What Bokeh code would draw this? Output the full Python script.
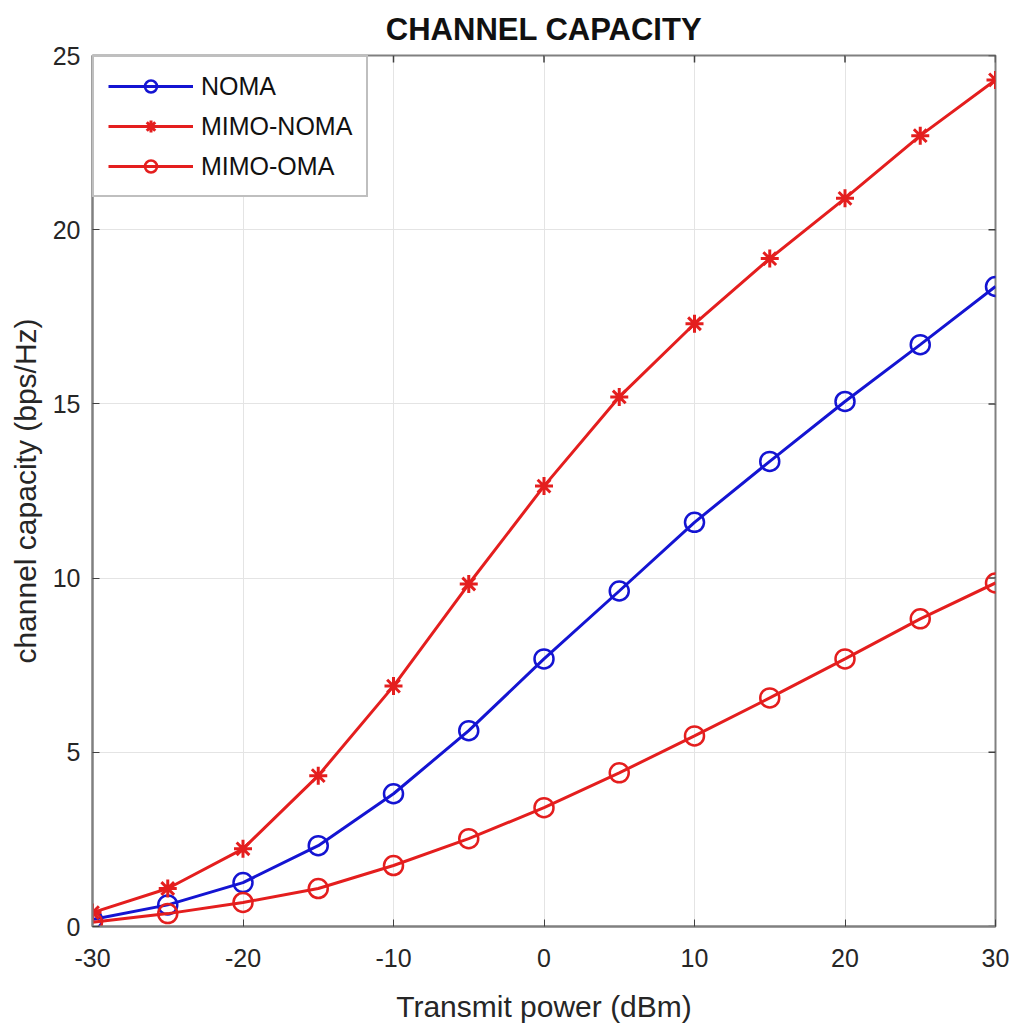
import math

from bokeh.plotting import figure
from bokeh.models import Range1d, FixedTicker, Legend, LegendItem
from bokeh.embed import file_html
from bokeh.resources import INLINE

# Transmit power sweep (dBm) and achieved channel capacity (bps/Hz)
power_dbm = [-30, -25, -20, -15, -10, -5, 0, 5, 10, 15, 20, 25, 30]
noma = [0.2, 0.62, 1.26, 2.32, 3.81, 5.62, 7.68, 9.63, 11.6, 13.35, 15.07, 16.7, 18.37]
mimo_noma = [0.4, 1.09, 2.23, 4.33, 6.9, 9.83, 12.64, 15.2, 17.3, 19.17, 20.9, 22.7, 24.3]
mimo_oma = [0.12, 0.37, 0.69, 1.09, 1.75, 2.52, 3.41, 4.41, 5.47, 6.56, 7.68, 8.83, 9.86]

x_ticks = [-30, -20, -10, 0, 10, 20, 30]
y_ticks = [0, 5, 10, 15, 20, 25]
x_lim = (-30, 30)
y_lim = (0, 25)

BLUE = "#1414d2"
RED = "#e41e1e"
AXIS_GREY = "#808080"
TICK_GREY = "#404040"
TEXT = "#262626"
FONT = "Liberation Sans"

p = figure(
    width=1015, height=1034,
    x_range=Range1d(*x_lim), y_range=Range1d(*y_lim),
    output_backend="svg", toolbar_location=None,
    min_border_left=92, min_border_right=20,
    min_border_top=53, min_border_bottom=108,
    background_fill_color="white", border_fill_color="white",
)

p.title.text = "CHANNEL CAPACITY"
p.title.align = "center"
p.title.text_font = FONT
p.title.text_font_size = "31px"
p.title.text_font_style = "bold"
p.title.text_color = "#111111"
p.title.standoff = 18

p.outline_line_color = AXIS_GREY
p.outline_line_width = 2

for ax in (p.xaxis[0], p.yaxis[0]):
    ax.axis_line_color = AXIS_GREY
    ax.axis_line_width = 2
    ax.major_tick_line_color = TICK_GREY
    ax.major_tick_in = 7
    ax.major_tick_out = 0
    ax.minor_tick_line_color = None
    ax.major_label_text_font = FONT
    ax.major_label_text_font_size = "25px"
    ax.major_label_text_color = TEXT
    ax.axis_label_text_font = FONT
    ax.axis_label_text_font_style = "normal"
    ax.axis_label_text_color = TEXT

p.xaxis.ticker = FixedTicker(ticks=x_ticks)
p.yaxis.ticker = FixedTicker(ticks=y_ticks)
# plain hyphen-minus on the power labels
p.xaxis.major_label_overrides = {t: str(t) for t in x_ticks}
p.xaxis.axis_label = "Transmit power (dBm)"
p.yaxis.axis_label = "channel capacity (bps/Hz)"
p.xaxis.axis_label_text_font_size = "30px"
p.yaxis.axis_label_text_font_size = "30px"
p.xaxis.major_label_standoff = 22
p.xaxis.axis_label_standoff = 20
p.yaxis.major_label_standoff = 12
p.yaxis.axis_label_standoff = 8

p.xgrid.grid_line_color = "#e4e4e4"
p.ygrid.grid_line_color = "#e4e4e4"
p.xgrid.ticker = FixedTicker(ticks=x_ticks)
p.ygrid.ticker = FixedTicker(ticks=y_ticks)

# inward tick marks along the top and right edges of the box
p.scatter(x=x_ticks, y=[y_lim[1]] * len(x_ticks), marker="dash", angle=math.pi / 2,
          size=14, line_color=TICK_GREY, line_width=1.5)
p.scatter(x=[x_lim[1]] * len(y_ticks), y=y_ticks, marker="dash",
          size=14, line_color=TICK_GREY, line_width=1.5)

l1 = p.line(power_dbm, noma, line_color=BLUE, line_width=3)
m1 = p.scatter(power_dbm, noma, marker="circle", size=19, line_color=BLUE,
               line_width=2.5, fill_color=None)
l2 = p.line(power_dbm, mimo_noma, line_color=RED, line_width=3)
m2 = p.scatter(power_dbm, mimo_noma, marker="asterisk", size=18, line_color=RED,
               line_width=3)
l3 = p.line(power_dbm, mimo_oma, line_color=RED, line_width=3)
m3 = p.scatter(power_dbm, mimo_oma, marker="circle", size=19, line_color=RED,
               line_width=2.5, fill_color=None)

legend = Legend(
    items=[
        LegendItem(label="NOMA", renderers=[l1, m1]),
        LegendItem(label="MIMO-NOMA", renderers=[l2, m2]),
        LegendItem(label="MIMO-OMA", renderers=[l3, m3]),
    ],
    location="top_left",
    margin=0,
    padding=14,
    spacing=10,
    glyph_width=85,
    glyph_height=30,
    label_height=30,
    label_standoff=8,
    label_text_font=FONT,
    label_text_font_size="25px",
    label_text_color="#111111",
    border_line_color=AXIS_GREY,
    border_line_width=2,
    background_fill_color="white",
    background_fill_alpha=1.0,
)
p.add_layout(legend, "center")

open("out.html", "w").write(file_html(p, INLINE))
